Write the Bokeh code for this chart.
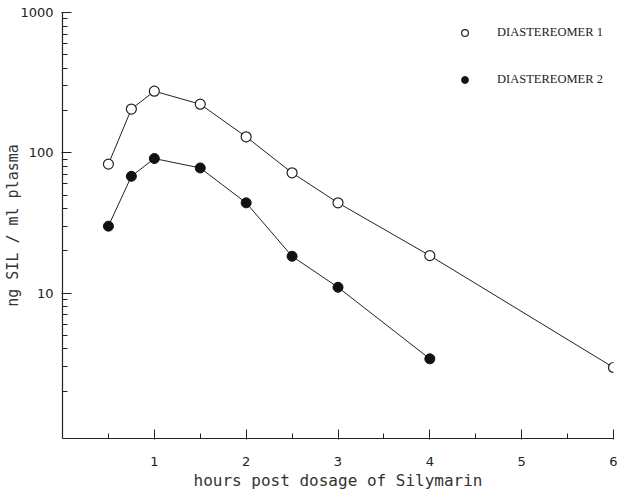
from bokeh.plotting import figure
from bokeh.models import FixedTicker, Legend, LegendItem, Range1d
from bokeh.embed import file_html
from bokeh.resources import INLINE

hours = [0.5, 0.75, 1.0, 1.5, 2.0, 2.5, 3.0, 4.0, 6.0]
diast1 = [83, 205, 275, 222, 130, 72, 44, 18.5, 2.95]
hours2 = [0.5, 0.75, 1.0, 1.5, 2.0, 2.5, 3.0, 4.0]
diast2 = [30, 68, 91, 78, 44, 18.3, 11, 3.4]
x_major = [1, 2, 3, 4, 5, 6]
x_minor = [0.5, 1.5, 2.5, 3.5, 4.5, 5.5]
y_major = [10, 100, 1000]

p = figure(width=618, height=492, output_backend="svg", toolbar_location=None,
           y_axis_type="log", x_range=Range1d(0, 6), y_range=Range1d(0.92, 1000),
           min_border_left=62, min_border_right=5, min_border_top=12, min_border_bottom=52)
p.outline_line_color = None
p.xgrid.visible = False
p.ygrid.visible = False
p.background_fill_color = "white"

p.xaxis.ticker = FixedTicker(ticks=x_major, minor_ticks=x_minor)
y_minor = [m * d for d in [1, 10, 100] for m in range(2, 10)]
p.yaxis.ticker = FixedTicker(ticks=y_major, minor_ticks=y_minor)
p.yaxis.major_label_overrides = {10: "10", 100: "100", 1000: "1000"}

for ax in (p.xaxis[0], p.yaxis[0]):
    ax.axis_line_color = "#222222"
    ax.axis_line_width = 1.2
    ax.major_tick_line_color = "#222222"
    ax.minor_tick_line_color = "#222222"
    ax.major_tick_out = 1
    ax.major_tick_in = 9
    ax.minor_tick_in = 5
    ax.minor_tick_out = 0
    ax.major_label_text_font = "DejaVu Sans"
    ax.major_label_text_font_size = "13px"
    ax.major_label_text_color = "#222222"
    ax.axis_label_text_font = "DejaVu Sans Mono"
    ax.axis_label_text_font_style = "normal"
    ax.axis_label_text_color = "#333333"

p.xaxis.major_label_standoff = 17
p.yaxis.major_label_standoff = 8
p.xaxis.axis_label = "hours post dosage of Silymarin"
p.yaxis.axis_label = "ng SIL / ml plasma"
p.xaxis.axis_label_text_font_size = "16px"
p.yaxis.axis_label_text_font_size = "15px"
p.xaxis.axis_label_standoff = 2
p.yaxis.axis_label_standoff = -5

p.line(hours, diast1, line_color="#222222", line_width=1)
p.line(hours2, diast2, line_color="#222222", line_width=1)
r1 = p.scatter(hours, diast1, marker="circle", size=10, fill_color="white",
               line_color="#222222", line_width=1.2)
r2 = p.scatter(hours2, diast2, marker="circle", size=10, fill_color="#111111",
               line_color="#111111")

legend = Legend(items=[LegendItem(label="DIASTEREOMER 1", renderers=[r1]),
                       LegendItem(label="DIASTEREOMER 2", renderers=[r2])],
                location=(394, 350), orientation="vertical")
legend.background_fill_alpha = 0
legend.border_line_color = None
legend.padding = 0
legend.margin = 0
legend.spacing = 30
legend.glyph_height = 17
legend.glyph_width = 17
legend.label_height = 17
legend.label_standoff = 24
legend.label_text_font = "Liberation Serif"
legend.label_text_font_size = "12.5px"
legend.label_text_color = "#222222"
p.add_layout(legend, "center")

open("out.html", "w").write(file_html(p, INLINE))
